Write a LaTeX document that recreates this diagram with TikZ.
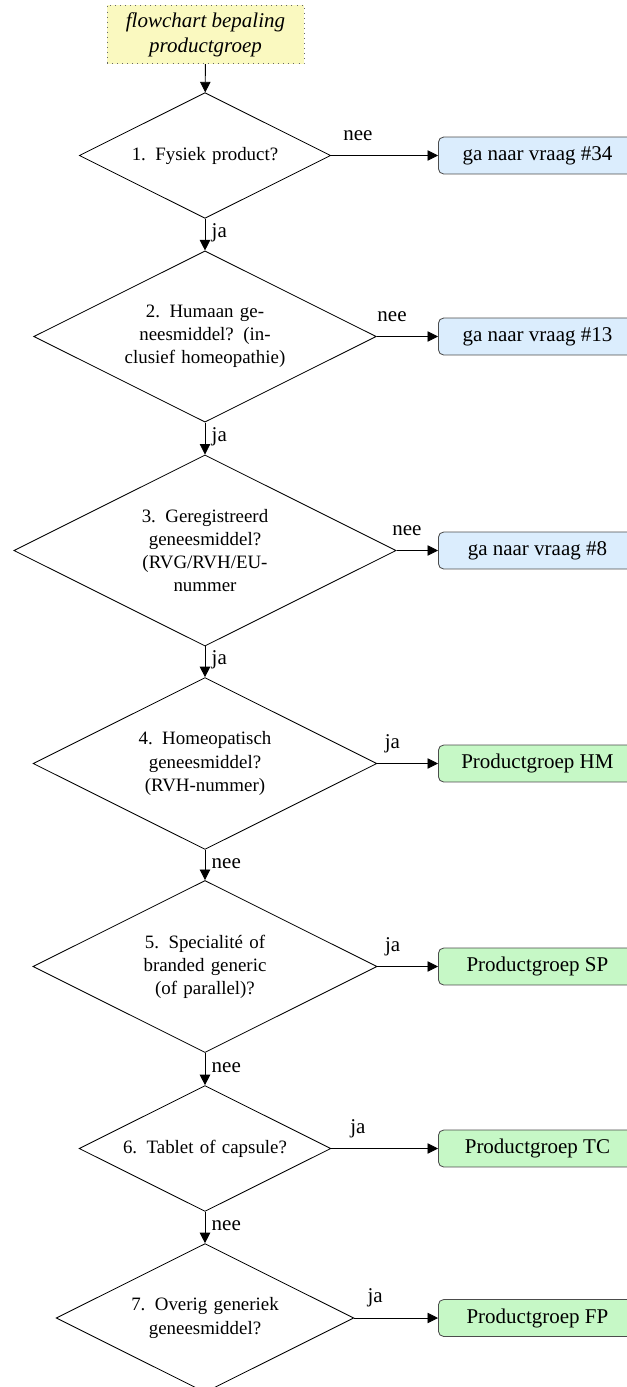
\documentclass[tikz,border=0pt]{standalone}
\usepackage{fontspec}
\setmainfont{Liberation Serif}
\usetikzlibrary{shapes.geometric,arrows.meta}

\definecolor{startgeel}{RGB}{250,249,192}
\definecolor{verwijsblauw}{RGB}{219,237,253}
\definecolor{groepgroen}{RGB}{198,248,198}

\begin{document}
\begin{tikzpicture}[x=0.47619pt,y=-0.47619pt]
	\tikzstyle{vraag}=[diamond, draw, aspect=2, text width=3cm, align=center, inner sep=3pt, font=\small]
	\tikzstyle{verwijs}=[draw=black!70, rounded corners=2.5pt, fill=verwijsblauw, minimum width=94.3pt, minimum height=17.6pt, anchor=west]
	\tikzstyle{groep}=[verwijs, fill=groepgroen]
	\tikzstyle{startblok}=[draw=black!60, dotted, fill=startgeel, align=center, minimum width=93.8pt, minimum height=25.2pt, font=\itshape]
	\tikzstyle{pijl}=[-{Triangle[length=5pt,width=5pt]}]
	\tikzstyle{lbl}=[text height=7pt, text depth=4pt, inner sep=3pt]

	\useasboundingbox (0,0) rectangle (627,1387);

	\node[startblok] (start) at (205.5,34.5) {flowchart bepaling\\productgroep};
	\node[vraag] (v1) at (205,155.5) {1. Fysiek product?};
	\node[vraag] (v2) at (205,336.5) {2. Humaan ge-\\neesmiddel? (in-\\clusief homeopathie)};
	\node[vraag] (v3) at (205,550.5) {3. Geregistreerd\\geneesmiddel?\\(RVG/RVH/EU-\\nummer};
	\node[vraag] (v4) at (205,763.5) {4. Homeopatisch\\geneesmiddel?\\(RVH-nummer)};
	\node[vraag] (v5) at (205,966.5) {5. Specialité of\\branded generic\\(of parallel)?};
	\node[vraag] (v6) at (205,1148.5) {6. Tablet of capsule?};
	\node[vraag] (v7) at (205,1318) {7. Overig generiek\\geneesmiddel?};

	\node[verwijs] (b1) at (438,155.5) {ga naar vraag \#34};
	\node[verwijs] (b2) at (438,336.5) {ga naar vraag \#13};
	\node[verwijs] (b3) at (438,550.5) {ga naar vraag \#8};
	\node[groep] (hm) at (438,763.5) {Productgroep HM};
	\node[groep] (sp) at (438,966.5) {Productgroep SP};
	\node[groep] (tc) at (438,1148.5) {Productgroep TC};
	\node[groep] (fp) at (438,1318) {Productgroep FP};

	\draw[pijl] (start) -- (v1);
	\foreach \van/\naar/\tekst in {v1/v2/ja,v2/v3/ja,v3/v4/ja,v4/v5/nee,v5/v6/nee,v6/v7/nee}
	\draw[pijl] (\van) -- node[lbl,right,midway] {\tekst} (\naar);
	\foreach \van/\naar/\tekst in {v1/b1/nee,v2/b2/nee,v3/b3/nee,v4/hm/ja,v5/sp/ja,v6/tc/ja,v7/fp/ja}
	\draw[pijl] (\van) -- node[lbl,above,pos=0.25] {\tekst} (\naar);
\end{tikzpicture}
\end{document}
